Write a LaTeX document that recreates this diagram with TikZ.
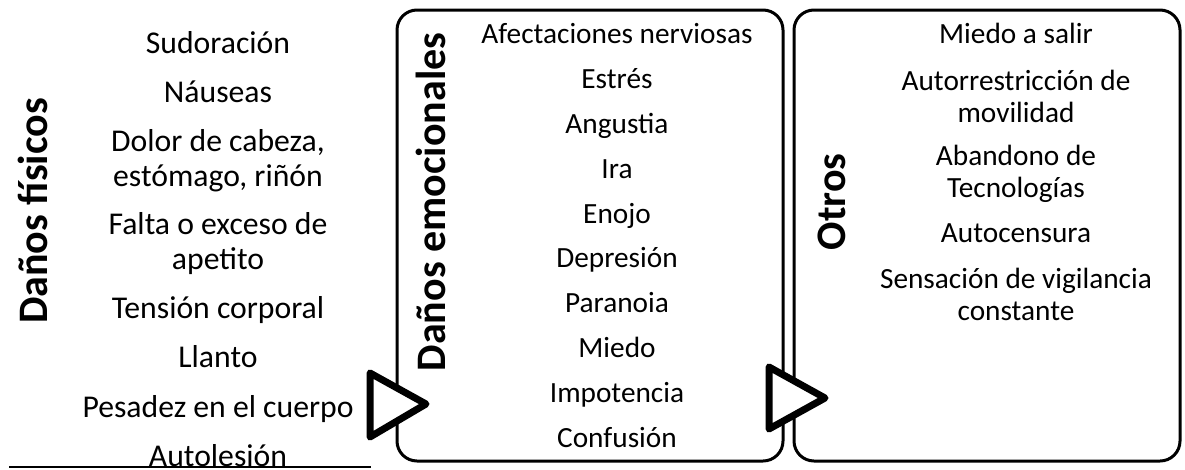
\documentclass[tikz,border=0pt]{standalone}
\usepackage{fontspec}
\setmainfont{Carlito}
\begin{document}
\begin{tikzpicture}[x=1pt,y=-1pt,
  item/.style={align=center, inner sep=0pt, anchor=base, font=\fontsize{29.3}{31.5}\selectfont},
  bigitem/.style={align=center, inner sep=0pt, anchor=base, font=\fontsize{31.7}{35}\selectfont},
  head/.style={rotate=90, inner sep=0pt, font=\bfseries\fontsize{42}{50}\selectfont},
  panel/.style={draw, line width=3pt, rounded corners=20pt, minimum width=386pt, minimum height=451pt, inner sep=0pt},
  flowtri/.style={draw, fill=white, line width=7pt, line join=round}
]
\useasboundingbox (0,0) rectangle (1185,469);
% panels
\node[panel] (emo) at (590,235.5) {};
\node[panel] (otr) at (987,235.5) {};
% triangles
\draw[flowtri] (370,373) -- (426,404) -- (370,437) -- cycle;
\draw[flowtri] (769,367) -- (825,398) -- (769,429) -- cycle;
% bottom rule
\coordinate (ruleA) at (9,467);
\coordinate (ruleB) at (371,467);
% headings
\node[head] (hfis) at (33,211) {Daños físicos};
\node[head] (hemo) at (431,202) {Daños emocionales};
\node[head] (hotr) at (832,202) {Otros};
% left column (base = last line)
\node[bigitem] (f1) at (218,53) {Sudoración};
\node[bigitem] (f2) at (218,102) {Náuseas};
\node[bigitem] (f3) at (218,186) {Dolor de cabeza,\\estómago, riñón};
\node[bigitem] (f4) at (218,269) {Falta o exceso de\\apetito};
\node[bigitem] (f5) at (218,318) {Tensión corporal};
\node[bigitem] (f6) at (218,367) {Llanto};
\node[bigitem] (f7) at (218,417) {Pesadez en el cuerpo};
\node[bigitem] (f8) at (218,466) {Autolesión};
\draw[line width=2.5pt] (ruleA) -- (ruleB);
% emotional column
\node[item] (e1) at (617,43) {Afectaciones nerviosas};
\node[item] (e2) at (617,88) {Estrés};
\node[item] (e3) at (617,133) {Angustia};
\node[item] (e4) at (617,178) {Ira};
\node[item] (e5) at (617,223) {Enojo};
\node[item] (e6) at (617,267.5) {Depresión};
\node[item] (e7) at (617,312) {Paranoia};
\node[item] (e8) at (617,357) {Miedo};
\node[item] (e9) at (617,402) {Impotencia};
\node[item] (e10) at (617,447) {Confusión};
% others column (base = last line)
\node[item] (o1) at (1016,43) {Miedo a salir};
\node[item] (o2) at (1016,122) {Autorrestricción de\\movilidad};
\node[item] (o3) at (1016,197) {Abandono de\\Tecnologías};
\node[item] (o4) at (1016,242) {Autocensura};
\node[item] (o5) at (1016,320) {Sensación de vigilancia\\constante};
\end{tikzpicture}
\end{document}
